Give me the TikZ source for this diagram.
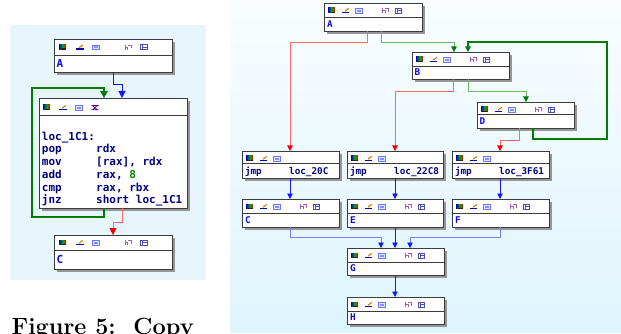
\documentclass[tikz,border=0pt]{standalone}
\usepackage{fontspec}
\newfontfamily\ida{DejaVu Sans Mono}
\usetikzlibrary{arrows.meta}
\definecolor{navyt}{RGB}{0,0,128}
\definecolor{labt}{RGB}{10,10,235}
\definecolor{lpanel}{RGB}{231,246,252}
\definecolor{rtop}{RGB}{249,253,255}
\definecolor{rbot}{RGB}{222,245,253}
\definecolor{shadowc}{RGB}{150,150,150}
\definecolor{borderc}{RGB}{60,60,60}
\definecolor{redl}{RGB}{255,105,105}
\definecolor{redh}{RGB}{240,0,0}
\definecolor{greenl}{RGB}{110,185,110}
\definecolor{greend}{RGB}{0,125,0}
\definecolor{bluel}{RGB}{125,125,255}
\definecolor{blueh}{RGB}{20,20,255}
\definecolor{greent}{RGB}{0,130,0}
\newcommand\blk[6]{%
  \fill[shadowc] (#2+3,#3+3) rectangle (#4+3,#6+3);
  \node[blockbox, minimum width=#4-#2, minimum height=#6-#3, anchor=north west] (#1) at (#2,#3) {};
  \draw[borderc, line width=0.9pt] (#2,#5) -- (#4,#5);}
\newcommand\iconsfive[3]{%
  \begin{scope}[shift={(#1,#2)}, scale=#3]
    \pic at (0,0) {ibar}; \pic at (17,0) {ipen}; \pic at (33,0) {iimg};
    \pic at (65,0) {itree}; \pic at (81,0) {ibox};
  \end{scope}}
\newcommand\iconsthree[3]{%
  \begin{scope}[shift={(#1,#2)}, scale=#3]
    \pic at (0,0) {ibar}; \pic at (17,0) {ipen}; \pic at (33,0) {iimg};
  \end{scope}}
\begin{document}
\begin{tikzpicture}[x=1pt,y=-1pt,
  blockbox/.style={draw=borderc, fill=white, line width=0.9pt, inner sep=0pt, outer sep=0pt, rectangle},
  ibar/.pic={\shade[left color=blue!80!black, right color=red!90!black, middle color=green!70!black] (0,0) rectangle (7,4);
             \fill[black!85] (0,4) rectangle (7,5.2);},
  ipen/.pic={\fill[blue!75!black] (0,3.6) rectangle (7.5,5.2);
             \draw[orange!90!black, line width=1.1pt] (3.2,3.2) -- (6.8,0.4);},
  iimg/.pic={\draw[blue!55, fill=cyan!18, line width=0.7pt] (0.4,0.4) rectangle (7.4,5);
             \fill[blue!45] (2,2) rectangle (5.6,3.6);},
  itree/.pic={\draw[violet!65, line width=0.8pt] (1,0.2) -- (1,5.2) (1,2.6) -- (3.6,2.6) -- (3.6,5.2) (3.6,0.6) -- (7,0.6) -- (7,3.6);},
  ibox/.pic={\draw[blue!40!gray, line width=0.8pt] (0.5,0.4) rectangle (7,5.2) (2.8,0.4) -- (2.8,5.2) (2.8,2.6) -- (7,2.6);},
  igraph/.pic={\draw[violet!70!blue, line width=0.8pt] (0.3,0.5) -- (7.5,0.5) (0.3,4.8) -- (7.5,4.8) (1.5,0.5) -- (6.3,4.8) (6.3,0.5) -- (1.5,4.8);},
  labL/.style={font=\ida\bfseries\fontsize{11}{13}\selectfont, text=labt, inner sep=0pt, anchor=base west},
  insL/.style={font=\ida\bfseries\fontsize{11}{13}\selectfont, text=navyt, inner sep=0pt, anchor=base west},
  labR/.style={font=\ida\bfseries\fontsize{9.3}{11}\selectfont, text=labt, inner sep=0pt, anchor=base west},
  insR/.style={font=\ida\bfseries\fontsize{9.3}{11}\selectfont, text=navyt, inner sep=0pt, anchor=base west},
  tipRL/.style={-{Triangle[length=7pt,width=7pt,color=redh]}},
  tipGL/.style={-{Triangle[length=7pt,width=7.5pt,color=greend]}},
  tipBL/.style={-{Triangle[length=7pt,width=7pt,color=blueh]}},
  tipR/.style={-{Triangle[length=5.5pt,width=5.5pt,color=redh]}},
  tipG/.style={-{Triangle[length=5.5pt,width=5.5pt,color=greend]}},
  tipB/.style={-{Triangle[length=5.5pt,width=5.5pt,color=blueh]}},
  edgeR/.style={line width=0.8pt}
]
\useasboundingbox (0,0) rectangle (621,334);
\fill[white] (0,0) rectangle (621,334);
\fill[lpanel] (10,25) rectangle (206,280);
\shade[top color=rtop, bottom color=rbot] (230,0) rectangle (621,332);

% ---------- left panel blocks ----------
\blk{lA}{54}{39}{172}{55}{72}
\blk{lL}{39}{98}{187}{115}{208}
\blk{lC}{54}{235}{172}{250}{269}
\iconsfive{59}{44.5}{1}
\iconsfive{59}{240}{1}
\begin{scope}[shift={(43,105)}]
  \pic at (0,0) {ibar}; \pic at (16,0) {ipen}; \pic at (32,0) {iimg}; \pic at (48,0) {igraph};
\end{scope}
\node[labL] (tlA) at (56.5,67.3) {A};
\node[labL] (tlC) at (56.5,263.3) {C};
\node[insL] (l0) at (41.7,140.3) {loc\_1C1:};
\node[insL] (l1m) at (41.7,153) {pop};   \node[insL] (l1o) at (96,153) {rdx};
\node[insL] (l2m) at (41.7,165.7) {mov};  \node[insL] (l2o) at (96,165.7) {[rax], rdx};
\node[insL] (l3m) at (41.7,178.4) {add};  \node[insL] (l3o) at (96,178.4) {rax, \textcolor{greent}{8}};
\node[insL] (l4m) at (41.7,191.1) {cmp};  \node[insL] (l4o) at (96,191.1) {rax, rbx};
\node[insL] (l5m) at (41.7,203.8) {jnz};  \node[insL] (l5o) at (96,203.8) {short loc\_1C1};

% left edges
\draw[blueh, line width=1pt, tipBL] ([xshift=59pt]lA.south west) -- ++(0,13) -| ([xshift=83pt]lL.north west);
\draw[greend, line width=1.8pt, tipGL] ([xshift=65pt]lL.south west) -- ++(0,9) -- ++(-72,0) -- ++(0,-129) -| ([xshift=65pt]lL.north west);
\draw[redl, line width=1pt, tipRL] ([xshift=83pt]lL.south west) -- ++(0,14) -| ([xshift=59pt]lC.north west);

% ---------- right panel blocks ----------
\blk{rA}{324}{3}{422}{17}{31}
\blk{rB}{412}{52}{509}{66}{79}
\blk{rD}{477}{102}{574}{114}{128}
\blk{rJ1}{242}{151}{339}{163}{178}
\blk{rJ2}{347}{151}{443}{163}{178}
\blk{rJ3}{452}{151}{549}{163}{178}
\blk{rC}{242}{199}{339}{213}{227}
\blk{rE}{347}{199}{443}{213}{227}
\blk{rF}{452}{199}{549}{213}{227}
\blk{rG}{347}{248}{444}{262}{275}
\blk{rH}{347}{297}{444}{311}{324}
\iconsfive{328}{8}{0.82}
\iconsfive{416}{57}{0.82}
\iconsfive{481}{107}{0.82}
\iconsthree{246}{156}{0.82}
\iconsthree{351}{156}{0.82}
\iconsthree{456}{156}{0.82}
\iconsfive{246}{204}{0.82}
\iconsfive{351}{204}{0.82}
\iconsfive{456}{204}{0.82}
\iconsfive{351}{253}{0.82}
\iconsfive{351}{302}{0.82}

\node[labR] (trA) at (326.8,27.5) {A};
\node[labR] (trB) at (414.5,75.8) {B};
\node[labR] (trD) at (479.5,124.8) {D};
\node[insR] (j1m) at (244.8,174.5) {jmp}; \node[insR] (j1o) at (289,174.5) {loc\_20C};
\node[insR] (j2m) at (349.8,174.5) {jmp}; \node[insR] (j2o) at (394,174.5) {loc\_22C8};
\node[insR] (j3m) at (454.8,174.5) {jmp}; \node[insR] (j3o) at (499,174.5) {loc\_3F61};
\node[labR] (trC) at (244.8,223.5) {C};
\node[labR] (trE) at (349.8,223.5) {E};
\node[labR] (trF) at (454.8,223.5) {F};
\node[labR] (trG) at (349.8,271.5) {G};
\node[labR] (trH) at (349.8,320.5) {H};

% right edges
\draw[redl, edgeR, tipR] ([xshift=43pt]rA.south west) -- ++(0,11) -| ([xshift=48pt]rJ1.north west);
\draw[greenl, edgeR, tipG] ([xshift=57pt]rA.south west) -- ++(0,11) -| ([xshift=42pt]rB.north west);
\draw[greend, line width=1.3pt, tipG] ([xshift=56pt]rD.south west) -- ++(0,11) -- ++(74,0) -- ++(0,-97) -| ([xshift=56pt]rB.north west);
\draw[redl, edgeR, tipR] ([xshift=41pt]rB.south west) -- ++(0,12) -| ([xshift=48pt]rJ2.north west);
\draw[greenl, edgeR, tipG] ([xshift=56pt]rB.south west) -- ++(0,12) -| ([xshift=49pt]rD.north west);
\draw[redl, edgeR, tipR] ([xshift=42pt]rD.south west) -- ++(0,12) -| ([xshift=48pt]rJ3.north west);
\draw[blueh, edgeR, tipB] ([xshift=48pt]rJ1.south west) -- ([xshift=48pt]rC.north west);
\draw[blueh, edgeR, tipB] ([xshift=48pt]rJ2.south west) -- ([xshift=48pt]rE.north west);
\draw[blueh, edgeR, tipB] ([xshift=48pt]rJ3.south west) -- ([xshift=48pt]rF.north west);
\draw[bluel, edgeR, tipB] ([xshift=48pt]rC.south west) -- ++(0,10) -| ([xshift=34pt]rG.north west);
\draw[blueh, edgeR, tipB] ([xshift=48pt]rE.south west) -- ([xshift=48pt]rG.north west);
\draw[bluel, edgeR, tipB] ([xshift=48pt]rF.south west) -- ++(0,10) -| ([xshift=63pt]rG.north west);
\draw[blueh, edgeR, tipB] ([xshift=48pt]rG.south west) -- ([xshift=48pt]rH.north west);

% caption
\node[font=\bfseries\fontsize{23.5}{27}\selectfont, anchor=base west, inner sep=0pt] (cap) at (11.5,334) {Figure 5:\ \ Copy};
\end{tikzpicture}
\end{document}
